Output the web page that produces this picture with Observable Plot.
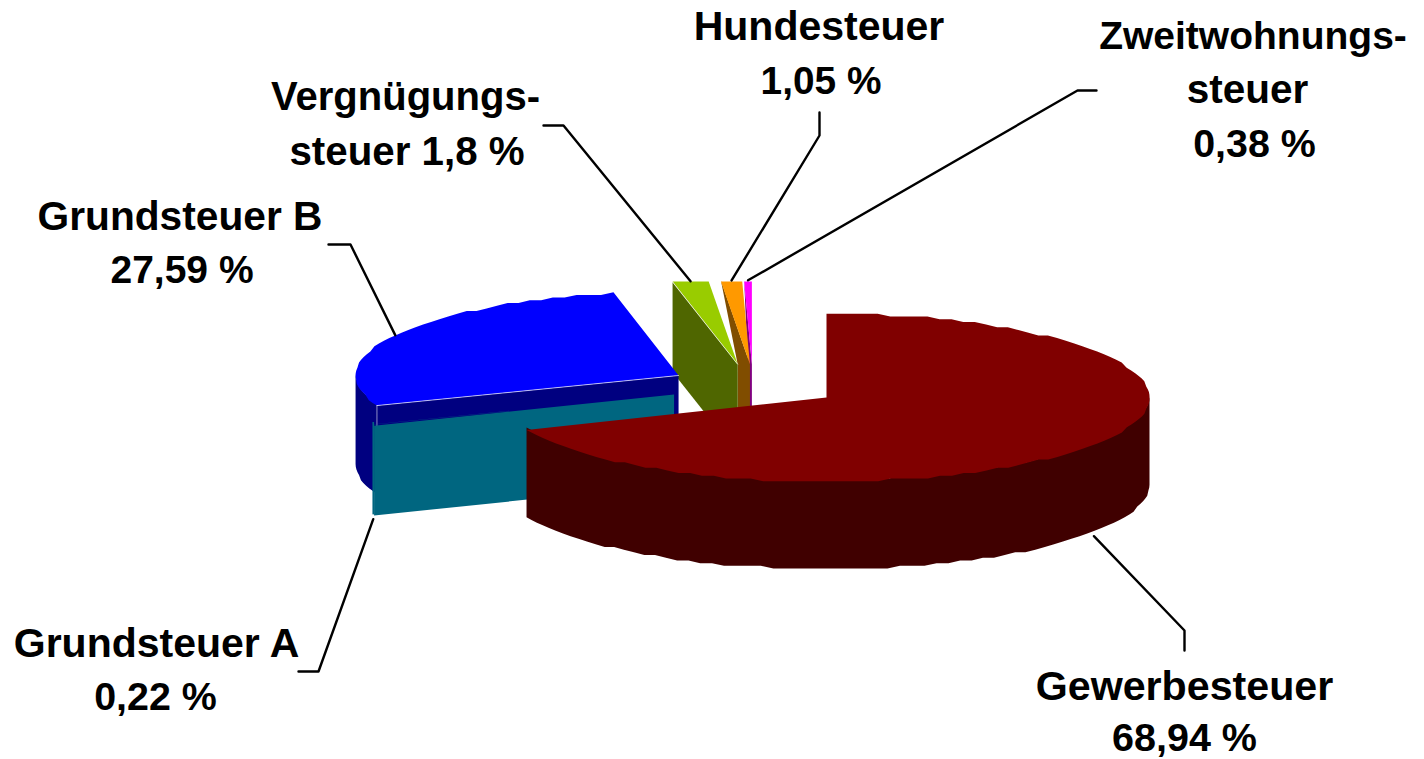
<!DOCTYPE html>
<html><head><meta charset="utf-8">
<style>html,body{margin:0;padding:0;background:#fff}svg{display:block}</style>
<script src="https://cdn.jsdelivr.net/npm/d3@7"></script>
<script src="https://cdn.jsdelivr.net/npm/@observablehq/plot@0.6"></script>
</head><body><div id="chart"></div>
<script>
// Data
const names = ["Gewerbesteuer","Grundsteuer A","Grundsteuer B","Vergnügungssteuer","Hundesteuer","Zweitwohnungssteuer"];
const values = [68.94,0.22,27.59,1.8,1.05,0.38];
const labelHeads = [["Gewerbesteuer"],["Grundsteuer A"],["Grundsteuer B"],["Vergnügungs-"],["Hundesteuer"],["Zweitwohnungs-","steuer"]];
const topColors = ["#800000","#006680","#0000ff","#99cc00","#ff9900","#ff00ff"];
const sideColors = ["#400000","#006680","#000080","#4f6600","#804d00","#800080"];

// Pie geometry, in pie units (radius = 1 on each axis of the tilted ellipse)
const W = 1424, H = 759, CX = 826, CY = 397, RX = 323, RY = 84;
const explodeX = [0,-0.472,-0.458,-0.275,-0.237,-0.231];
const explodeY = [0,0.036,0.262,0.395,0.395,0.395];
const depths = [1.04,1.07,1.05,1.07,1.07,1.07];
const drawOrder = [5,4,3,2,1,0];
const ux = p => (p - CX) / RX, uy = p => (CY - p) / RY;
const stepY = 2.7 / RY;
const snapY = v => Math.round(v / stepY) * stepY;

const total = d3.sum(values);
const cum = d3.cumsum(values);
const startA = values.map((v, i) => (i ? cum[i - 1] : 0) / total * 2 * Math.PI);
const endA = values.map((v, i) => cum[i] / total * 2 * Math.PI);
const rim = (i, a) => [explodeX[i] + Math.sin(a), explodeY[i] + Math.cos(a)];
function arc(i, a0, a1) {
  const n = Math.max(2, Math.ceil(Math.abs(a1 - a0) / 0.04)), out = [];
  for (let k = 0; k <= n; k++) { const p = rim(i, a0 + (a1 - a0) * k / n); out.push([p[0], snapY(p[1])]); }
  return out;
}
const apex = i => [explodeX[i], explodeY[i]];
const down = (p, d) => [p[0], p[1] - d];

const marks = [];
const poly = (pts, fill) => marks.push(Plot.line(pts, {x: d => d[0], y: d => d[1], fill, stroke: "none", curve: "linear-closed"}));
const edge = (pts, stroke, w, op) => marks.push(Plot.line(pts, {x: d => d[0], y: d => d[1], stroke, strokeWidth: w, strokeOpacity: op}));

for (const i of drawOrder) {
  const d = depths[i], a = apex(i), r0 = rim(i, startA[i]);
  // cut face at the slice's start angle; small slices stop at the neighbour's apex
  if (i === 4 || i === 5) {
    const lim = i === 5 ? ux(747.3) : apex(i - 1)[0];
    poly([r0, a, down(a, d), [lim, a[1] - d], [lim, a[1]]], sideColors[i]);
  } else {
    poly([r0, a, down(a, d), down(r0, d)], sideColors[i]);
  }
  // outer wall, only where it faces the viewer; its top edge tucks under the top face
  const w0 = Math.max(startA[i], Math.PI / 2), w1 = Math.min(endA[i], 1.5 * Math.PI);
  if (w1 > w0) {
    const top = arc(i, w0, w1);
    poly([...top.map(p => [p[0], p[1] + 0.03]), ...top.slice().reverse().map(p => down(p, d))], sideColors[i]);
  }
  // top face
  poly([a, ...arc(i, startA[i], endA[i])], topColors[i]);
  if (i === 2 || i === 3) edge([a, r0], "#fff", 0.9, 0.75);
  if (i === 2) edge([r0, down(r0, d)], "#fff", 0.9, 0.6);
}

// Leader lines start on the rim at each slice's middle angle
const elbowsPx = [[[1184,630],[1184,650]],[[318,671],[298,671]],[[350,244],[328,244]],[[563,125],[543,125]],[[819,135],[819,112]],[[1077,90],[1096,90]]];
const frontLeader = [true,true,false,false,false,false];
values.forEach((v, i) => {
  const mid = (startA[i] + endA[i]) / 2;
  let p = rim(i, mid);
  if (frontLeader[i]) p = [p[0], p[1] - depths[i] - 0.05];
  edge([p, ...elbowsPx[i].map(q => [ux(q[0]), uy(q[1])])], "#000", 2.4, 1);
});

// Labels
const pct = v => String(v).replace(".", ",") + " %";
const labelRows = [
  {t:labelHeads[0][0],x:1184,y:686,s:41.2},{t:pct(values[0]),x:1184,y:738,s:39.5},
  {t:labelHeads[1][0],x:156,y:643,s:41},{t:pct(values[1]),x:155,y:697,s:39.4},
  {t:labelHeads[2][0],x:179.5,y:216,s:40.7},{t:pct(values[2]),x:181.5,y:270,s:39},
  {t:labelHeads[3][0],x:405,y:97,s:40},{t:"steuer " + pct(values[3]),x:406.5,y:152,s:40.3},
  {t:labelHeads[4][0],x:818.5,y:26,s:41},{t:pct(values[4]),x:820.5,y:81,s:38.8},
  {t:labelHeads[5][0],x:1252.5,y:36,s:39},{t:labelHeads[5][1],x:1247,y:90,s:40.5},{t:pct(values[5]),x:1254,y:144,s:39.4}
];
marks.push(Plot.text(labelRows, {x: d => ux(d.x), y: d => uy(d.y), text: "t", fill: "#000", fontSize: d => d.s, fontWeight: 700, fontFamily: "Liberation Sans", textAnchor: "middle", lineAnchor: "middle"}));

const chart = Plot.plot({
  width: W, height: H, margin: 0,
  x: {domain: [ux(0), ux(W)], range: [0, W], axis: null},
  y: {domain: [uy(H), uy(0)], range: [H, 0], axis: null},
  style: {background: "#fff"},
  marks
});
document.getElementById("chart").appendChild(chart);
</script></body></html>
